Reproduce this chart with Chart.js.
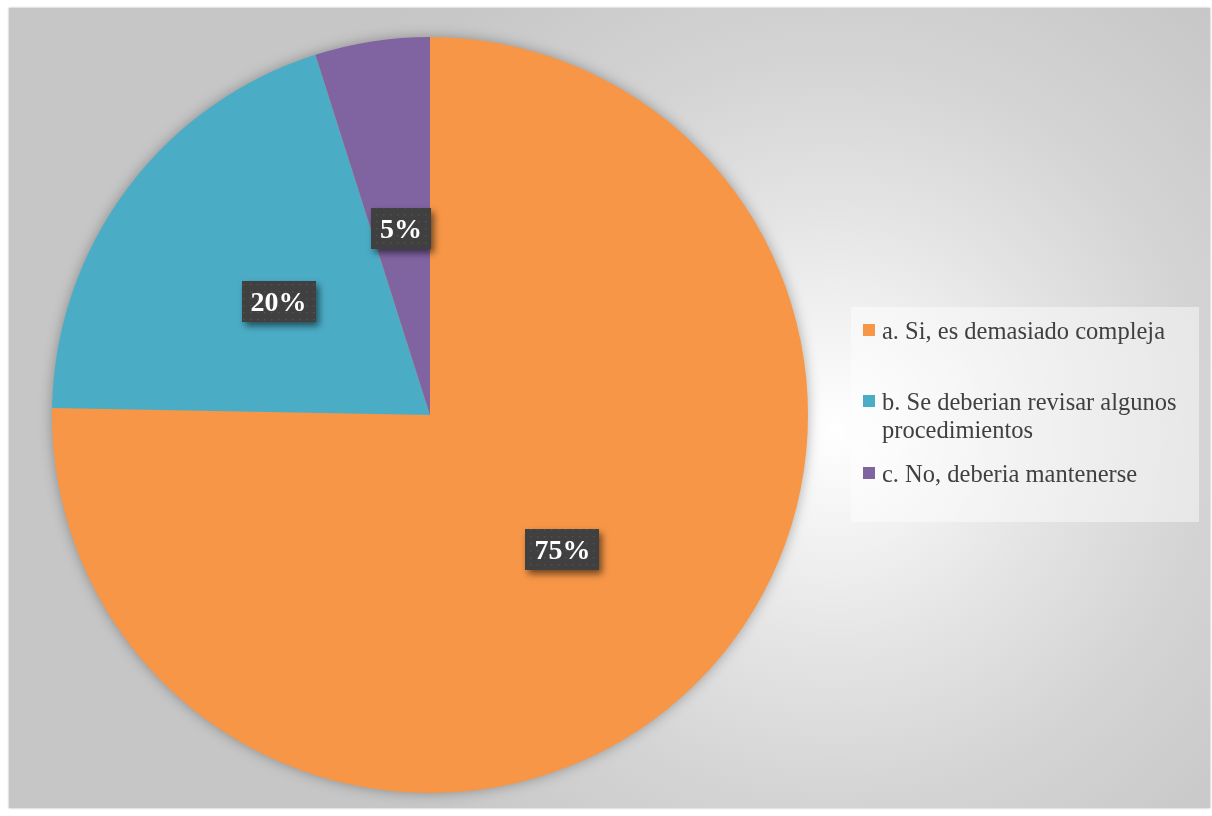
<!DOCTYPE html>
<html>
<head>
<meta charset="utf-8">
<script src="https://cdn.jsdelivr.net/npm/chart.js@4"></script>
<style>
  html, body { margin: 0; padding: 0; background: #ffffff; }
  body { width: 1212px; height: 816px; position: relative; overflow: hidden; }
  #frame {
    position: absolute; left: 9px; top: 8px; width: 1201px; height: 800px;
    background: radial-gradient(circle 600px at 826px 422px,
      #ffffff 0px, #f4f4f4 90px, #e4e4e4 220px, #d4d4d4 370px, #c8c8c8 540px, #c6c6c6 600px);
    box-shadow: 0 0 2px rgba(0,0,0,0.35);
  }
  #frame canvas { position: absolute; left: 0; top: 0; }
</style>
</head>
<body>
<div id="frame"><canvas id="pie" width="1201" height="800"></canvas></div>
<script>
// categorias y valores (porcentaje de respuestas)
const categories = [
    'a. Si, es demasiado compleja',
    ['b. Se deberian revisar algunos', 'procedimientos'],
    'c. No, deberia mantenerse'
];
const values = [75.3, 19.8, 4.9];
const colors = ['#F79646', '#4BACC6', '#8064A2'];

const FONT = "'Liberation Serif', 'Times New Roman', serif";

// patron punteado para las etiquetas
function dotPattern(ctx) {
    const c = document.createElement('canvas');
    c.width = 7; c.height = 7;
    const p = c.getContext('2d');
    p.fillStyle = '#404040';
    p.fillRect(0, 0, 7, 7);
    p.fillStyle = '#515151';
    p.fillRect(3, 3, 1.5, 1.5);
    return ctx.createPattern(c, 'repeat');
}

// sombra suave alrededor del pastel
const pieShadow = {
    id: 'pieShadow',
    beforeDatasetsDraw(chart) {
        const arc = chart.getDatasetMeta(0).data[0];
        if (!arc) return;
        const { x, y, outerRadius } = arc.getProps(['x', 'y', 'outerRadius'], true);
        const ctx = chart.ctx;
        ctx.save();
        ctx.shadowColor = 'rgba(0,0,0,0.35)';
        ctx.shadowBlur = 14;
        ctx.fillStyle = colors[0];
        ctx.beginPath();
        ctx.arc(x, y, outerRadius - 1, 0, Math.PI * 2);
        ctx.fill();
        ctx.restore();
    }
};

// etiquetas de porcentaje dentro de cada sector
const pctLabels = {
    id: 'pctLabels',
    afterDatasetsDraw(chart) {
        const ctx = chart.ctx;
        const meta = chart.getDatasetMeta(0);
        const data = chart.data.datasets[0].data;
        const pattern = dotPattern(ctx);
        ctx.save();
        ctx.font = 'bold 28px ' + FONT;
        meta.data.forEach((arc, i) => {
            const pos = arc.tooltipPosition(true);
            const text = Math.round(data[i]) + '%';
            const w = ctx.measureText(text).width + 18;
            const h = 41;
            const bx = Math.round(pos.x - w / 2);
            const by = Math.round(pos.y - h / 2);
            ctx.save();
            ctx.shadowColor = 'rgba(0,0,0,0.55)';
            ctx.shadowBlur = 7;
            ctx.shadowOffsetX = 3;
            ctx.shadowOffsetY = 4;
            ctx.fillStyle = pattern;
            ctx.fillRect(bx, by, w, h);
            ctx.restore();
            ctx.fillStyle = '#ffffff';
            ctx.textAlign = 'center';
            ctx.textBaseline = 'alphabetic';
            ctx.fillText(text, pos.x, by + 30);
        });
        ctx.restore();
    }
};

// leyenda a la derecha
const sideLegend = {
    id: 'sideLegend',
    afterDraw(chart, args, opts) {
        const ctx = chart.ctx;
        ctx.save();
        ctx.fillStyle = 'rgba(255,255,255,0.45)';
        ctx.fillRect(opts.x, opts.y, opts.width, opts.height);
        ctx.font = '24.5px ' + FONT;
        ctx.textBaseline = 'alphabetic';
        ctx.textAlign = 'left';
        chart.data.labels.forEach((label, i) => {
            const lines = Array.isArray(label) ? label : [label];
            const base = opts.y + opts.rows[i];
            ctx.fillStyle = colors[i];
            ctx.fillRect(opts.x + 12, base - 15, 12, 12);
            ctx.fillStyle = '#404040';
            lines.forEach((ln, k) => ctx.fillText(ln, opts.x + 31, base + k * 28));
        });
        ctx.restore();
    }
};

new Chart(document.getElementById('pie'), {
    type: 'pie',
    data: {
        labels: categories,
        datasets: [{
            data: values,
            backgroundColor: colors,
            borderWidth: 0
        }]
    },
    options: {
        responsive: false,
        animation: false,
        layout: { padding: { left: 43, top: 29, right: 402, bottom: 15 } },
        plugins: {
            legend: { display: false },
            tooltip: { enabled: false },
            sideLegend: { x: 842, y: 299, width: 348, height: 215, rows: [32, 103, 175] }
        }
    },
    plugins: [pieShadow, pctLabels, sideLegend]
});
</script>
</body>
</html>
